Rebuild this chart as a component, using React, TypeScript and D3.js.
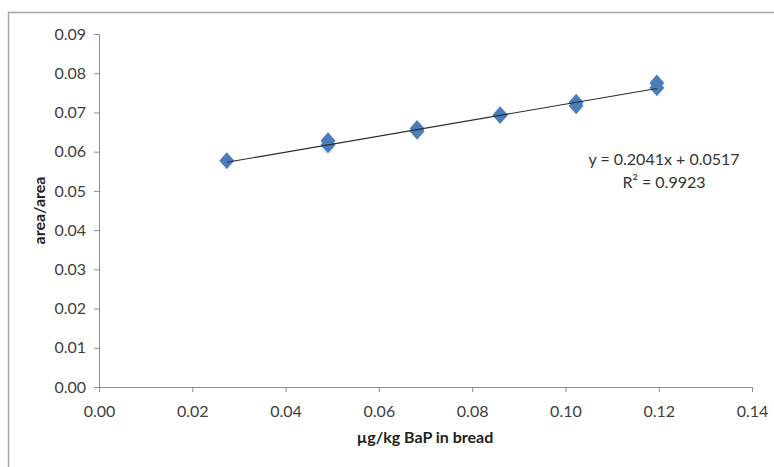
import React, { useEffect, useRef } from 'react';
import * as d3 from 'd3';

// concentrations (µg/kg) and area ratios (replicates overlap)
const xValues = [0.0274, 0.0491, 0.0491, 0.0682, 0.0682, 0.086, 0.086, 0.1023, 0.1023, 0.1196, 0.1196];
const yValues = [0.0577, 0.0628, 0.0617, 0.0659, 0.0652, 0.0694, 0.0692, 0.0726, 0.0717, 0.0775, 0.0763];
const xTicks = [0, 0.02, 0.04, 0.06, 0.08, 0.1, 0.12, 0.14];
const yTicks = [0, 0.01, 0.02, 0.03, 0.04, 0.05, 0.06, 0.07, 0.08, 0.09];
const slope = 0.2041;
const intercept = 0.0517;
const equationText = 'y = 0.2041x + 0.0517';
const r2Text = 'R² = 0.9923';

const W = 774;
const H = 467;

const App: React.FC = () => {
  const svgRef = useRef<SVGSVGElement>(null);

  useEffect(() => {
    if (!svgRef.current) return;
    const svg = d3.select(svgRef.current);
    svg.selectAll('*').remove();

    const font = 'Lato, "Open Sans", sans-serif';
    const axisColor = '#8c8c8c';

    const x = d3.scaleLinear().domain([0, 0.14]).range([99, 752]);
    const y = d3.scaleLinear().domain([0, 0.09]).range([387, 34]);

    // outer chart frame (runs off the right and bottom edges)
    svg.append('rect')
      .attr('x', 8.5).attr('y', 12.5)
      .attr('width', 900).attr('height', 600)
      .attr('fill', 'none')
      .attr('stroke', '#a6a6a6')
      .attr('stroke-width', 1.5);

    const xAxis = svg.append('g')
      .attr('transform', `translate(0, ${y(0)})`)
      .call(d3.axisBottom(x).tickValues(xTicks).tickFormat(d3.format('.2f')).tickSizeInner(5).tickSizeOuter(0));
    xAxis.select('.domain').attr('stroke', axisColor);
    xAxis.selectAll('.tick line').attr('stroke', axisColor);
    xAxis.selectAll('.tick text')
      .attr('fill', '#404040')
      .attr('dy', '1.4em')
      .style('font-family', font)
      .style('font-size', '16px');

    const yAxis = svg.append('g')
      .attr('transform', `translate(${x(0)}, 0)`)
      .call(d3.axisLeft(y).tickValues(yTicks).tickFormat(d3.format('.2f')).tickSizeInner(5).tickSizeOuter(0));
    yAxis.select('.domain').attr('stroke', axisColor);
    yAxis.selectAll('.tick line').attr('stroke', axisColor);
    yAxis.selectAll('.tick text')
      .attr('fill', '#404040')
      .attr('x', -13)
      .style('font-family', font)
      .style('font-size', '16px');

    // axis titles
    svg.append('text')
      .attr('x', 425).attr('y', 443)
      .attr('text-anchor', 'middle')
      .style('font-family', font)
      .style('font-size', '16px')
      .style('font-weight', 'bold')
      .attr('fill', '#222')
      .text('µg/kg BaP in bread');

    svg.append('text')
      .attr('transform', `translate(45, ${(y(0) + y(0.09)) / 2}) rotate(-90)`)
      .attr('text-anchor', 'middle')
      .style('font-family', font)
      .style('font-size', '16px')
      .style('font-weight', 'bold')
      .attr('fill', '#222')
      .text('area/area');

    // markers
    const pts = xValues.map((v, i) => [v, yValues[i]] as [number, number]);
    svg.append('g')
      .selectAll('path')
      .data(pts)
      .enter().append('path')
      .attr('d', d3.symbol().type(d3.symbolDiamond2).size(143)())
      .attr('transform', d => `translate(${x(d[0])}, ${y(d[1])}) scale(1, 1.13)`)
      .attr('fill', '#4a7ebb');

    // linear trendline over the data range
    const [x0, x1] = d3.extent(xValues) as [number, number];
    svg.append('line')
      .attr('x1', x(x0)).attr('y1', y(slope * x0 + intercept))
      .attr('x2', x(x1)).attr('y2', y(slope * x1 + intercept))
      .attr('stroke', '#2b2b2b')
      .attr('stroke-width', 1.1);

    svg.append('text')
      .attr('x', 664).attr('y', 165)
      .attr('text-anchor', 'middle')
      .style('font-family', font)
      .style('font-size', '16px')
      .attr('fill', '#333')
      .text(equationText);
    svg.append('text')
      .attr('x', 664).attr('y', 188)
      .attr('text-anchor', 'middle')
      .style('font-family', font)
      .style('font-size', '16px')
      .attr('fill', '#333')
      .text(r2Text);
  }, []);

  return (
    <div style={{ position: 'fixed', left: 0, top: 0, width: W, height: H, background: '#fff' }}>
      <svg ref={svgRef} width={W} height={H} style={{ display: 'block' }} />
    </div>
  );
};

export default App;
